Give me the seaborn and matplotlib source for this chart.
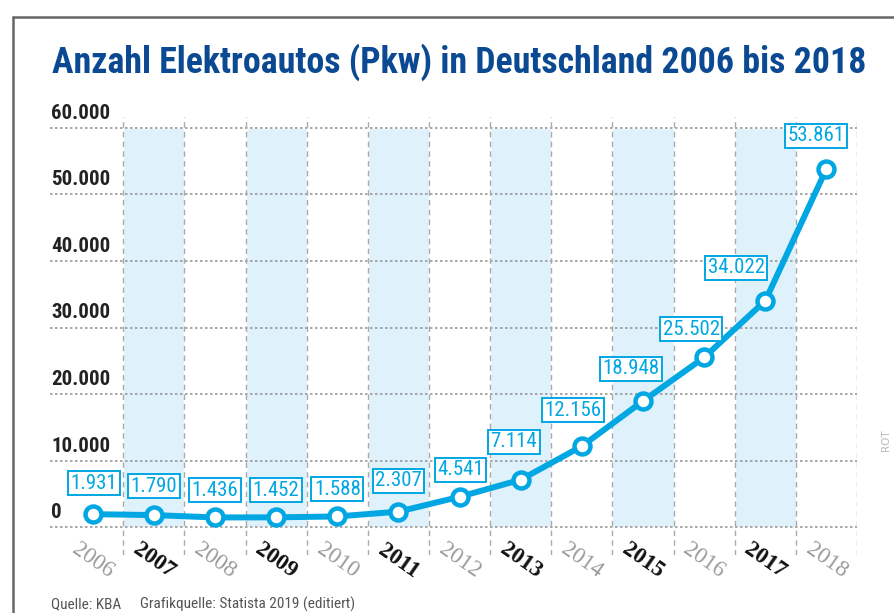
import matplotlib
matplotlib.use("Agg")
import matplotlib.pyplot as plt
import seaborn as sns
import pandas as pd
from matplotlib.lines import Line2D

#-----Data-----#
years = [2006, 2007, 2008, 2009, 2010, 2011, 2012, 2013, 2014, 2015, 2016, 2017, 2018]
cars = [1931, 1790, 1436, 1452, 1588, 2307, 4541, 7114, 12156, 18948, 25502, 34022, 53861]
y_ticks = [0, 10000, 20000, 30000, 40000, 50000, 60000]

title = "Anzahl Elektroautos (Pkw) in Deutschland 2006 bis 2018"
source_a = "Quelle: KBA"
source_b = "Grafikquelle: Statista 2019 (editiert)"

# label offsets in pixels (dx, dy) relative to each point
label_dx = [1, 0, 0, 0, 0, 0, 1, -7, -9, -12, -13, -29, -10]
label_dy = [31, 29, 27, 27, 27, 31, 27, 38, 36, 32, 28, 33, 33]

blue = "#00a7e3"
band = "#dff1fb"
navy = "#0b4a93"
narrow = ["Roboto Condensed", "Lato", "DejaVu Sans"]
serif = ["Liberation Serif", "DejaVu Serif"]

df = pd.DataFrame({"idx": range(len(years)), "year": years, "cars": cars})

#-----Figure-----#
sns.set_style("white")
fig = plt.figure(figsize=(8.94, 6.13), dpi=100)
ax = fig.add_axes([50 / 894, 58 / 613, 807 / 894, 438 / 613])

px = 60000 / 399.0
ax.set_xlim(-0.7, 12.5)
ax.set_ylim(-28 * px, 60000 + 11 * px)

# shaded bands for odd years
for i, yr in enumerate(years):
    if yr % 2 == 1:
        ax.bar(i, 60000, width=1, bottom=0, color=band, zorder=0)

# horizontal dotted grid
ax.hlines(y_ticks, -0.7, 12.5, colors="#9a9a9a", linestyles=(0, (1.5, 1.5)), lw=1.2, zorder=1)
# vertical dashed separators
ax.vlines([i + 0.5 for i in range(len(years))], -28 * px, 60000 + 11 * px,
          colors="#aaaaaa", linestyles=(0, (4, 3)), lw=1.0, zorder=1)

sns.lineplot(data=df, x="idx", y="cars", ax=ax, color=blue, lw=4.3, zorder=3,
             marker="o", markersize=11.5, markerfacecolor="white",
             markeredgecolor=blue, markeredgewidth=3.2)

for i, v in enumerate(cars):
    ax.annotate(f"{v:,}".replace(",", "."), (i, v),
                xytext=(label_dx[i], label_dy[i]), textcoords="offset pixels",
                ha="center", va="center", color=blue, fontsize=15, family=narrow,
                bbox=dict(boxstyle="square,pad=0.12", fc="white", ec=blue, lw=1.4),
                zorder=4)

# y tick labels above gridlines
for t in y_ticks:
    ax.annotate(f"{t:,}".replace(",", "."), (-0.7, t), xytext=(1, 5),
                textcoords="offset pixels", ha="left", va="bottom",
                fontsize=15, fontweight="bold", color="#222222", family=narrow)

# year labels
for i, yr in enumerate(years):
    odd = yr % 2 == 1
    ax.annotate(str(yr), (i, -28 * px), xytext=(0, -6), textcoords="offset pixels",
                ha="center", va="center", rotation=-35, rotation_mode="anchor",
                fontsize=16.5, family=serif,
                fontweight="bold" if odd else "normal",
                color="#111111" if odd else "#9a9a9a", annotation_clip=False)

ax.set_xticks([])
ax.set_yticks([])
ax.set_xlabel("")
ax.set_ylabel("")
for s in ax.spines.values():
    s.set_visible(False)

# title, footer, side mark
fig.text(52 / 894, 1 - 62 / 613, title, ha="left", va="center", fontsize=25.8,
         fontweight="bold", color=navy, family=narrow)
fig.text(51 / 894, 1 - 597 / 613, source_a, ha="left", va="top", fontsize=11,
         color="#555555", family=narrow)
fig.text(140 / 894, 1 - 597 / 613, source_b, ha="left", va="top", fontsize=11,
         color="#555555", family=narrow)
fig.text(886 / 894, 1 - 440 / 613, "ROT", ha="center", va="center", rotation=90,
         fontsize=7.5, color="#bbbbbb")

# frame
fig.add_artist(Line2D([13 / 894, 13 / 894], [0, 1 - 17 / 613], color="#666666", lw=1.8))
fig.add_artist(Line2D([13 / 894, 1], [1 - 17 / 613, 1 - 17 / 613], color="#666666", lw=1.8))

fig.savefig("out.png", dpi=100)
